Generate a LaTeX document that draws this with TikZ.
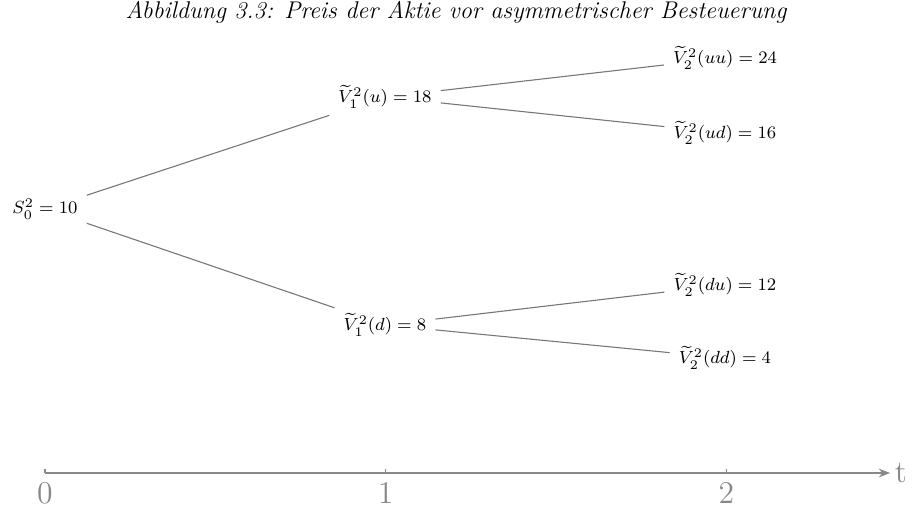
\documentclass[tikz,border=0pt]{standalone}
\usepackage{amsmath,amssymb}
\usetikzlibrary{arrows.meta}
\definecolor{lngray}{HTML}{777777}
\definecolor{axgray}{HTML}{888888}

\begin{document}
\begin{tikzpicture}[
  >={Stealth[length=1.8mm, width=1.4mm]},
  every node/.style={font=\fontsize{8.3}{10}\selectfont},
  state/.style={inner sep=4pt},
  branch/.style={lngray, line width=0.5pt},
  tick/.style={font=\Large, text=axgray, anchor=north},
]

% Frame
\useasboundingbox (-0.72,-0.544) rectangle (13.872,7.568);

% Title
\node[font=\fontsize{11}{13}\selectfont\itshape] (title) at (6.576,7.37) {Abbildung 3.3: Preis der Aktie vor asymmetrischer Besteuerung};

% Stock price nodes
\node[state] (s0) at (0,4.224) {$S_0^2 = 10$};
\node[state] (v1u) at (5.44,6.016) {$\widetilde{V}_1^2(u) = 18$};
\node[state] (v1d) at (5.44,2.368) {$\widetilde{V}_1^2(d) = 8$};
\node[state] (v2uu) at (10.88,6.64) {$\widetilde{V}_2^2(uu) = 24$};
\node[state] (v2ud) at (10.88,5.44) {$\widetilde{V}_2^2(ud) = 16$};
\node[state] (v2du) at (10.88,3.008) {$\widetilde{V}_2^2(du) = 12$};
\node[state] (v2dd) at (10.88,1.84) {$\widetilde{V}_2^2(dd) = 4$};

% Branches
\draw[branch] (s0) -- (v1u);
\draw[branch] (s0) -- (v1d);
\draw[branch] (v1u) -- (v2uu);
\draw[branch] (v1u) -- (v2ud);
\draw[branch] (v1d) -- (v2du);
\draw[branch] (v1d) -- (v2dd);

% Time axis
\coordinate (ax0) at (0,0);
\coordinate (axend) at (13.52,0);
\draw[axgray, line width=0.5pt, ->] (ax0) -- (axend);
\node[font=\Large, text=axgray, anchor=west, inner sep=2pt] (tlab) at (axend) {t};
\foreach \t in {0,1,2} {
  \draw[axgray, line width=0.5pt] (5.45*\t,0) -- (5.45*\t,0.07);
  \node[tick] (t\t) at (5.45*\t,-0.02) {\t};
}

\end{tikzpicture}
\end{document}
